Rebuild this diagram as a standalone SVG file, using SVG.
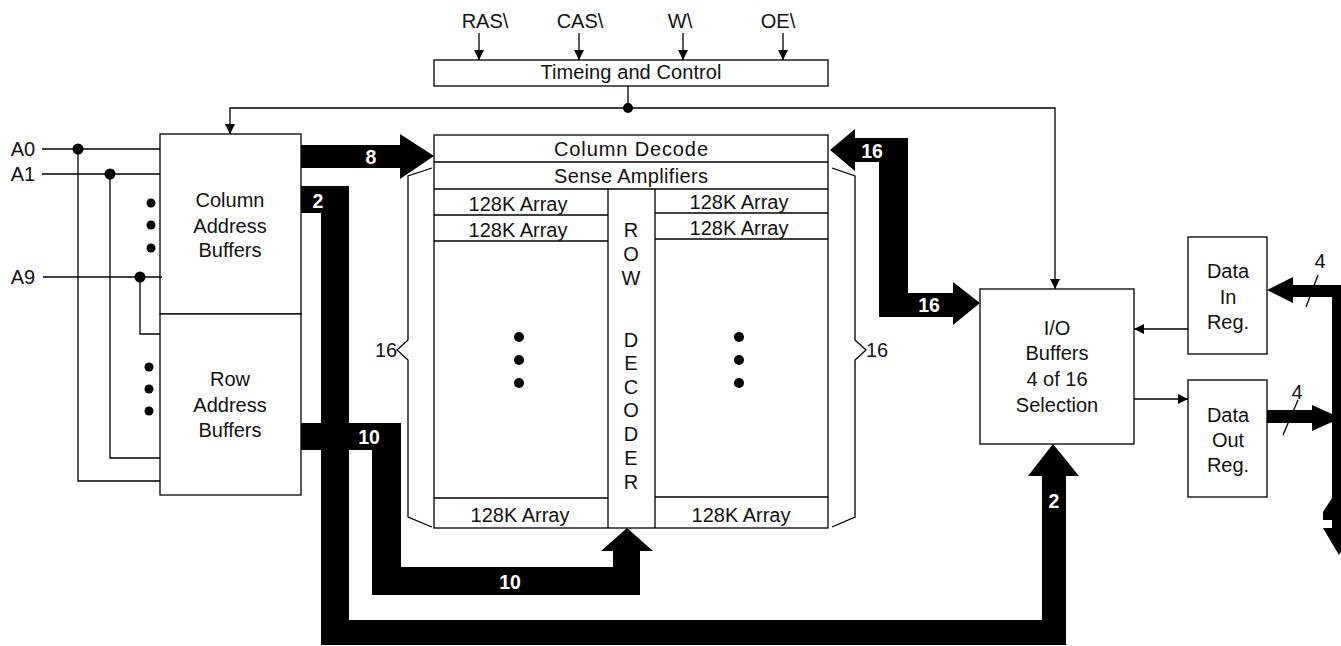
<svg xmlns="http://www.w3.org/2000/svg" width="1341" height="646" viewBox="0 0 1341 646">
<defs>
<marker id="ah" markerWidth="10" markerHeight="10" viewBox="0 0 10 10" refX="10" refY="5" orient="auto" markerUnits="userSpaceOnUse">
<path d="M0,0 L10,5 L0,10 Z" fill="#000"/>
</marker>
</defs>
<style>
.t{font-family:"Liberation Sans",Arial,sans-serif;font-size:20px;fill:#111;text-anchor:middle}
.b{font-family:"Liberation Sans",Arial,sans-serif;font-size:19.5px;font-weight:bold;fill:#fff;text-anchor:middle}
.box{fill:#fff;stroke:#000;stroke-width:1.3}
.ln{fill:none;stroke:#000;stroke-width:1.3}
.ar{fill:none;stroke:#000;stroke-width:1.3;marker-end:url(#ah)}
.bus{fill:#000;stroke:none}
.dot{fill:#000}
</style>
<rect width="1341" height="646" fill="#fff"/>

<g id="timing">
<rect class="box" x="434" y="60" width="394" height="26"/>
<text class="t" x="631" y="79" textLength="181" lengthAdjust="spacing">Timeing and Control</text>
</g>
<g id="signals">
<text class="t" x="485" y="28">RAS\</text>
<text class="t" x="580" y="28">CAS\</text>
<text class="t" x="680" y="28">W\</text>
<text class="t" x="778" y="28">OE\</text>
</g>

<g id="col-addr-buf">
<rect class="box" x="160" y="134" width="141" height="180"/>
<text class="t" x="230" y="207">Column</text>
<text class="t" x="230" y="233">Address</text>
<text class="t" x="230" y="257">Buffers</text>
<circle class="dot" cx="151" cy="203" r="4.5"/>
<circle class="dot" cx="151" cy="225" r="4.5"/>
<circle class="dot" cx="151" cy="248" r="4.5"/>
</g>
<g id="row-addr-buf">
<rect class="box" x="160" y="314" width="141" height="181"/>
<text class="t" x="230" y="386">Row</text>
<text class="t" x="230" y="412">Address</text>
<text class="t" x="230" y="437">Buffers</text>
<circle class="dot" cx="149" cy="367" r="4.5"/>
<circle class="dot" cx="149" cy="389" r="4.5"/>
<circle class="dot" cx="149" cy="411" r="4.5"/>
</g>

<g id="array">
<rect class="box" x="434" y="135" width="394" height="393"/>
<line class="ln" x1="434" y1="162" x2="828" y2="162"/>
<line class="ln" x1="434" y1="189" x2="828" y2="189"/>
<line class="ln" x1="434" y1="215" x2="608" y2="215"/>
<line class="ln" x1="434" y1="241" x2="608" y2="241"/>
<line class="ln" x1="655" y1="213" x2="828" y2="213"/>
<line class="ln" x1="655" y1="239" x2="828" y2="239"/>
<line class="ln" x1="434" y1="498" x2="608" y2="498"/>
<line class="ln" x1="655" y1="497" x2="828" y2="497"/>
<line class="ln" x1="608" y1="189" x2="608" y2="528"/>
<line class="ln" x1="655" y1="189" x2="655" y2="528"/>
<text class="t" x="631" y="156" textLength="154" lengthAdjust="spacing">Column Decode</text>
<text class="t" x="631" y="183" textLength="154" lengthAdjust="spacing">Sense Amplifiers</text>
<text class="t" x="518" y="211">128K Array</text>
<text class="t" x="518" y="237">128K Array</text>
<text class="t" x="739" y="209">128K Array</text>
<text class="t" x="739" y="235">128K Array</text>
<text class="t" x="520" y="522">128K Array</text>
<text class="t" x="741" y="522">128K Array</text>
<circle class="dot" cx="519" cy="337" r="5"/>
<circle class="dot" cx="519" cy="360" r="5"/>
<circle class="dot" cx="519" cy="383" r="5"/>
<circle class="dot" cx="739" cy="337" r="5"/>
<circle class="dot" cx="739" cy="360" r="5"/>
<circle class="dot" cx="739" cy="383" r="5"/>
</g>
<g id="row-decoder">
<text class="t" x="631" y="237">R</text>
<text class="t" x="631" y="261">O</text>
<text class="t" x="631" y="285">W</text>
<text class="t" x="631" y="347">D</text>
<text class="t" x="631" y="370">E</text>
<text class="t" x="631" y="394">C</text>
<text class="t" x="631" y="417">O</text>
<text class="t" x="631" y="441">D</text>
<text class="t" x="631" y="465">E</text>
<text class="t" x="631" y="489">R</text>
</g>
<g id="braces">
<path class="ln" d="M432,168 L408,176 V340 L397,350 L408,360 V517 L432,527"/>
<path class="ln" d="M832,168 L855,176 V340 L866,350 L855,360 V517 L832,527"/>
<text class="t" x="386" y="357">16</text>
<text class="t" x="877" y="357">16</text>
</g>

<g id="io-buf">
<rect class="box" x="980" y="289" width="154" height="155"/>
<text class="t" x="1057" y="335">I/O</text>
<text class="t" x="1057" y="360">Buffers</text>
<text class="t" x="1057" y="386">4 of 16</text>
<text class="t" x="1057" y="412">Selection</text>
</g>
<g id="data-in">
<rect class="box" x="1188" y="237" width="79" height="117"/>
<text class="t" x="1228" y="278">Data</text>
<text class="t" x="1228" y="304">In</text>
<text class="t" x="1228" y="329">Reg.</text>
</g>
<g id="data-out">
<rect class="box" x="1188" y="380" width="79" height="117"/>
<text class="t" x="1228" y="422">Data</text>
<text class="t" x="1228" y="447">Out</text>
<text class="t" x="1228" y="472">Reg.</text>
</g>

<g id="connectors">
<line class="ar" x1="479" y1="33" x2="479" y2="60"/>
<line class="ar" x1="579" y1="33" x2="579" y2="60"/>
<line class="ar" x1="683" y1="33" x2="683" y2="60"/>
<line class="ar" x1="783" y1="33" x2="783" y2="60"/>
<line class="ln" x1="628" y1="86" x2="628" y2="108"/>
<path class="ar" d="M628,108 H230 V134"/>
<path class="ar" d="M628,108 H1055 V289"/>
<circle class="dot" cx="628" cy="108" r="5"/>

<line class="ln" x1="42" y1="149" x2="160" y2="149"/>
<line class="ln" x1="42" y1="174" x2="160" y2="174"/>
<line class="ln" x1="43" y1="277" x2="162" y2="277"/>
<path class="ln" d="M78,149 V481 H160"/>
<path class="ln" d="M110,174 V458 H160"/>
<path class="ln" d="M140,277 V334 H160"/>
<circle class="dot" cx="78" cy="149" r="5.5"/>
<circle class="dot" cx="110" cy="174" r="5.5"/>
<circle class="dot" cx="140" cy="277" r="5.5"/>
<text class="t" x="23" y="156">A0</text>
<text class="t" x="23" y="181">A1</text>
<text class="t" x="23" y="284">A9</text>

<line class="ar" x1="1188" y1="329" x2="1134" y2="329"/>
<line class="ar" x1="1134" y1="399" x2="1188" y2="399"/>

<polygon class="bus" points="301,145 400,145 400,134 434,156 400,179 400,168 301,168"/>
<polygon class="bus" points="301,186 349,186 349,620 1042,620 1042,476 1028,476 1053,444 1079,476 1066,476 1066,645 321,645 321,213 301,213"/>
<polygon class="bus" points="301,423 401,423 401,567 613,567 613,551 601,551 627,528 653,551 640,551 640,595 372,595 372,450 301,450"/>
<polygon class="bus" points="830,150 855,129 855,138 908,138 908,293 953,293 953,282 980,303 953,325 953,317 879,317 879,162 855,162 855,171"/>
<polygon class="bus" points="1267,290 1293,277 1293,285 1346,285 1346,528 1355,528 1339,555 1323,528 1332,528 1332,520 1323,520 1323,512 1332,498 1332,297 1293,297 1293,303"/>
<polygon class="bus" points="1267,410 1312,410 1312,405 1341,418 1312,431 1312,423 1267,423"/>
<line class="ln" x1="1306" y1="307" x2="1318" y2="275"/>
<line class="ln" x1="1283" y1="435" x2="1298" y2="400"/>
<text class="t" x="1320" y="268">4</text>
<text class="t" x="1297" y="399">4</text>

<text class="b" x="371" y="164">8</text>
<text class="b" x="318" y="208">2</text>
<text class="b" x="369" y="444">10</text>
<text class="b" x="510" y="589">10</text>
<text class="b" x="872" y="158">16</text>
<text class="b" x="929" y="312">16</text>
<text class="b" x="1054" y="508">2</text>
</g>
</svg>
